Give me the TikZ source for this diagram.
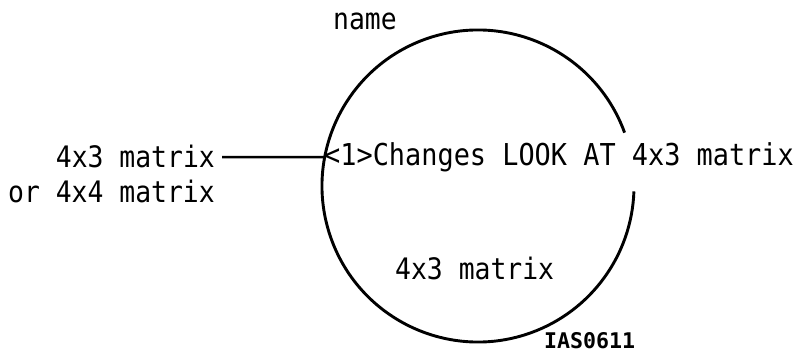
\documentclass[tikz,border=0pt]{standalone}
\usepackage{fontspec}
\newfontfamily\monofam{DejaVu Sans Mono}
\usetikzlibrary{calc}
\begin{document}
\begin{tikzpicture}[x=1pt,y=1pt,
  lbl/.style={font=\monofam\fontsize{26.4}{30}\selectfont, inner sep=0pt, yscale=1.12, transform shape},
  lblwide/.style={font=\monofam\fontsize{26.9}{30}\selectfont, inner sep=0pt, yscale=1.12, transform shape},
  figid/.style={font=\monofam\bfseries\fontsize{21.6}{24}\selectfont, inner sep=0pt},
  ring/.style={line width=2.9pt},
  conn/.style={line width=2.5pt}]
\useasboundingbox (0,0) rectangle (802,354);
\coordinate (c) at (478,168);
% circle with a gap on the right
\draw[ring] (c) ++(20:156) arc[start angle=20, end angle=358, radius=156];
% labels
\node[lbl, anchor=base west] (name) at (333,324) {name};
\node[lblwide, anchor=base west] (main) at (324,189) {<1>Changes LOOK AT 4x3 matrix};
\node[lbl, anchor=base east] (left1) at (215,187) {4x3 matrix};
\node[lbl, anchor=base east] (left2) at (215,152) {or 4x4 matrix};
\node[lbl, anchor=base west] (inner) at (395,75) {4x3 matrix};
\node[figid, anchor=base west] (fid) at (544,6) {IAS0611};
% connector
\coordinate (hit) at ($(c)+(169.3:156)$);
\draw[conn] ($(left1.base east)+(7,10)$) -- (hit);
\end{tikzpicture}
\end{document}
